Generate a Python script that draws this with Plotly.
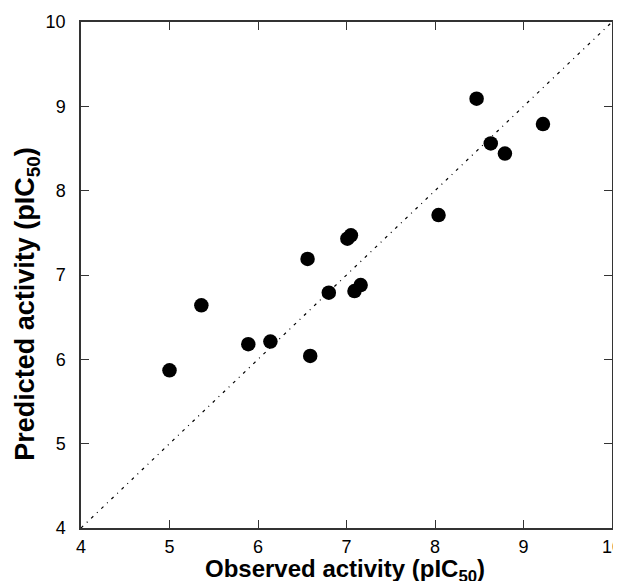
import plotly.graph_objects as go

observed = [5.00, 5.36, 5.89, 6.14, 6.56, 6.59, 6.80, 7.01, 7.05, 7.09, 7.16, 8.04, 8.47, 8.63, 8.79, 9.22]
predicted = [5.87, 6.64, 6.18, 6.21, 7.19, 6.04, 6.79, 7.43, 7.47, 6.81, 6.88, 7.71, 9.09, 8.56, 8.44, 8.79]
diag = [4, 10]
ticks = [4, 5, 6, 7, 8, 9, 10]

fig = go.Figure()
fig.add_trace(go.Scatter(x=diag, y=diag, mode="lines",
                         line=dict(color="black", width=1.2, dash="3px,5px,1px,5px"),
                         showlegend=False, hoverinfo="skip"))
fig.add_trace(go.Scatter(x=observed, y=predicted, mode="markers",
                         marker=dict(color="black", size=14.5),
                         showlegend=False))

axis_common = dict(range=[4, 10], tickvals=ticks, ticks="inside", ticklen=8, tickwidth=1.2,
                   tickcolor="#333", showline=True, linecolor="#333", linewidth=1.5,
                   mirror="ticks", showgrid=False, zeroline=False, automargin=False,
                   ticklabeloverflow="allow",
                   tickfont=dict(family="Liberation Sans, Arial", size=18, color="black"))

fig.update_layout(
    width=613, height=573,
    margin=dict(l=73, r=9, t=14, b=53),
    paper_bgcolor="white", plot_bgcolor="white",
    xaxis=dict(**axis_common, ticklabelstandoff=2),
    yaxis=dict(**axis_common, ticklabelstandoff=10),
)
fig.add_annotation(text="<b>Observed activity (pIC<sub>50</sub>)</b>",
                   xref="paper", yref="paper", x=0.5, y=0, xanchor="center", yanchor="top",
                   xshift=-2, yshift=-25, showarrow=False,
                   font=dict(family="Liberation Sans, Arial", size=24, color="black"))
fig.add_annotation(text="<b>Predicted activity (pIC<sub>50</sub>)</b>", textangle=-90,
                   xref="paper", yref="paper", x=0, y=0.443, xanchor="center", yanchor="middle",
                   xshift=-54, showarrow=False,
                   font=dict(family="Liberation Sans, Arial", size=27, color="black"))

fig.write_html("out.html")
